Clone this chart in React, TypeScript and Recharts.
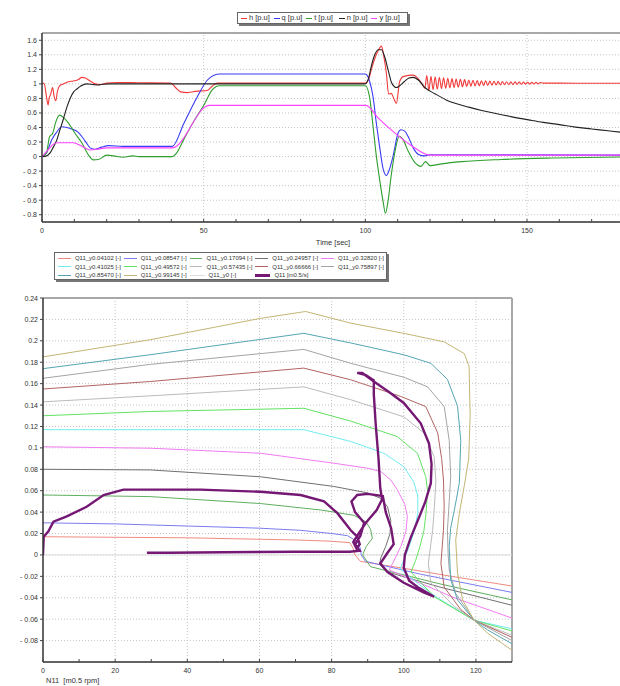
import React from "react";
import { LineChart, Line, XAxis, YAxis, CartesianGrid, ReferenceLine } from "recharts";

const FONT = '"Liberation Sans", Arial, sans-serif';

// ---- top chart: time series, [t (sec), value (p.u)] ----
const hSeries = [
  [0, 1.01], [0.7, 1.0], [1.4, 0.82], [1.9, 0.71], [2.2, 0.8], [2.7, 0.86], [3.3, 0.95], [3.7, 0.84],
  [4.3, 0.77], [4.7, 0.88], [5.4, 0.97], [6.6, 1.0], [8.2, 1.03], [9.7, 1.04], [11.3, 1.06], [12.3, 1.09],
  [13.4, 1.08], [14.9, 1.04], [16.4, 1.0], [18, 0.99], [20.1, 1.01], [23.2, 1.02], [30, 1.015], [39.8, 1.01],
  [41.3, 0.95], [42.9, 0.89], [45, 0.88], [48, 0.9], [51.1, 0.91], [52.7, 0.97], [54.2, 1.01], [100, 1.01],
  [101, 1.06], [102, 1.22], [103, 1.36], [104, 1.46], [105, 1.52], [105.7, 1.38], [106.5, 1.15], [107.2, 0.86],
  [108, 0.87], [108.8, 0.8], [109.6, 0.73], [110.6, 1.03], [111.7, 1.1], [114.8, 1.12], [117.4, 1.01], [118.4, 0.94],
  [119.0, 1.115], [119.65, 0.91], [120.3, 1.106], [120.95, 0.918], [121.6, 1.098], [122.25, 0.926], [122.9, 1.09],
  [123.55, 0.933], [124.2, 1.084], [124.85, 0.939], [125.5, 1.078], [126.15, 0.945], [126.8, 1.072], [127.45, 0.95],
  [128.1, 1.067], [128.75, 0.955], [129.4, 1.063], [130.05, 0.96], [130.7, 1.058], [131.35, 0.964], [132.0, 1.054],
  [132.65, 0.968], [133.3, 1.05], [133.95, 0.971], [134.6, 1.047], [135.25, 0.974], [135.9, 1.044], [136.55, 0.977],
  [137.2, 1.041], [137.85, 0.98], [138.5, 1.039], [139.15, 0.982], [139.8, 1.036], [140.45, 0.985], [141.1, 1.034],
  [141.75, 0.987], [142.4, 1.032], [143.05, 0.989], [143.7, 1.03], [144.35, 0.991], [145.0, 1.028], [145.65, 0.992],
  [146.3, 1.027], [146.95, 0.994], [147.6, 1.026], [148.25, 0.995], [148.9, 1.024], [149.55, 0.996], [150.2, 1.023],
  [150.85, 0.997], [151.5, 1.022], [152.15, 0.998], [152.8, 1.021], [153.45, 0.999], [154.1, 1.02], [155, 1.01],
  [160, 1.01], [170, 1.008], [180, 1.01],
];
const qSeries = [
  [0, 0], [1.4, 0.05], [3, 0.23], [4.6, 0.34], [6.1, 0.41], [7.7, 0.4], [9.2, 0.38], [11.3, 0.33], [13.4, 0.21],
  [14.9, 0.12], [16.4, 0.1], [18.5, 0.13], [20.6, 0.15], [25, 0.14], [40.3, 0.14], [43.9, 0.46], [48, 0.82],
  [51.1, 1.05], [53.2, 1.12], [55, 1.135], [100, 1.135], [101.3, 1.04], [102.4, 0.82], [103.4, 0.46], [104.4, 0.14],
  [105.5, -0.17], [106.5, -0.26], [107.5, -0.17], [108.6, 0.01], [110.1, 0.32], [111, 0.37], [112.2, 0.35],
  [113.2, 0.28], [114.8, 0.12], [116.4, 0.03], [118.4, 0.01], [120, 0.025], [180, 0.02],
];
const tSeries = [
  [0, 0], [1.4, 0.05], [2.3, 0.27], [3.3, 0.32], [4.3, 0.48], [5.4, 0.57], [6.6, 0.54], [8.2, 0.46], [10.2, 0.32],
  [12.3, 0.19], [14.4, 0.02], [15.9, -0.045], [17.4, -0.04], [20.1, 0.02], [22.1, 0.01], [25, -0.01], [28.2, 0.01],
  [30, 0], [40.3, 0], [41.8, 0.06], [43.9, 0.24], [47, 0.49], [50.1, 0.71], [52.7, 0.92], [54.8, 0.975], [100, 0.975],
  [101.3, 0.82], [102.4, 0.41], [103.4, 0.01], [104.4, -0.31], [105.5, -0.62], [106.2, -0.78], [107, -0.62],
  [108, -0.26], [109.3, 0.1], [110.5, 0.28], [111.7, 0.23], [113.2, 0.08], [115.3, -0.08], [117.2, -0.135],
  [118.6, -0.07], [120, -0.125], [123.6, -0.1], [129.8, -0.07], [142.2, -0.04], [157.7, -0.02], [180, -0.005],
];
const nSeries = [
  [0, 0], [1.5, 0.01], [2.5, 0.05], [3.5, 0.13], [4.6, 0.23], [5.5, 0.36], [6.5, 0.5], [7.7, 0.68], [8.8, 0.81],
  [9.8, 0.89], [10.8, 0.93], [12, 0.97], [13.9, 1.0], [16, 0.99], [17.5, 0.985], [19, 0.995], [21, 1.0], [100, 1.0],
  [101, 1.08], [102, 1.27], [103, 1.41], [104, 1.47], [105, 1.47], [106, 1.37], [107, 1.2], [108, 1.03], [109, 0.96],
  [109.6, 0.95], [110.5, 0.97], [112, 1.03], [113.5, 1.08], [114.8, 1.09], [116.5, 1.05], [118.4, 0.95],
  [121.5, 0.865], [125, 0.78], [128, 0.73], [132, 0.68], [136, 0.635], [140, 0.595], [145, 0.55], [150.5, 0.505],
  [155, 0.47], [160, 0.44], [165, 0.405], [170, 0.38], [175, 0.355], [180, 0.33],
];
const ySeries = [
  [0, 0], [2, 0.1], [3.5, 0.17], [5.1, 0.19], [9.7, 0.19], [12.8, 0.13], [14.9, 0.09], [17, 0.1], [20.1, 0.12],
  [40.3, 0.12], [51.7, 0.705], [100.2, 0.705], [104, 0.53], [109, 0.33], [114.3, 0.15], [119.9, 0.02], [180, 0.02],
];

const topSeries = [
  { name: "h [p.u]", color: "#F23A3A", points: hSeries },
  { name: "q [p.u]", color: "#3B3BF5", points: qSeries },
  { name: "t [p.u]", color: "#2E9E2E", points: tSeries },
  { name: "n [p.u]", color: "#222222", points: nSeries },
  { name: "y [p.u]", color: "#FF44FF", points: ySeries },
];
const topYTicks = [-0.8, -0.6, -0.4, -0.2, 0, 0.2, 0.4, 0.6, 0.8, 1, 1.2, 1.4, 1.6];
const topXTicks = [0, 10, 20, 30, 40, 50, 60, 70, 80, 90, 100, 110, 120, 130, 140, 150, 160, 170];
const topXLabelled = [0, 50, 100, 150];

// ---- bottom chart: characteristics, [N11, Q11] ----
const c0041 = [[0, 0.017], [40, 0.016], [70, 0.014], [80, 0.0128], [85, 0.0115], [86, 0.006], [86.5, 0.0], [88, -0.006], [100, -0.0125], [115, -0.021], [130, -0.029]];
const c0085 = [[0, 0.03], [20, 0.029], [40, 0.027], [60, 0.025], [71.4, 0.023], [80, 0.02], [84.4, 0.018], [87.1, 0.0125], [88, 0.006], [88.2, 0.0], [89.4, -0.006], [104.7, -0.018], [130, -0.035]];
const c0171 = [[0, 0.056], [29.7, 0.0545], [60.3, 0.048], [77, 0.042], [86.2, 0.037], [89.5, 0.031], [90.8, 0.024], [91.3, 0.0155], [89.6, 0.008], [88.6, 0.0], [90.8, -0.011], [110, -0.027], [130, -0.042]];
const c0250 = [[0, 0.08], [29.7, 0.0794], [60.3, 0.073], [80.6, 0.064], [89.9, 0.058], [93.5, 0.053], [95.5, 0.045], [96.4, 0.032], [96.2, 0.02], [95, 0.008], [93.6, -0.003], [93.3, -0.009], [95.5, -0.016], [110, -0.03], [130, -0.047]];
const c0328 = [[0, 0.101], [29.7, 0.0997], [60.3, 0.095], [80.6, 0.0857], [90, 0.081], [93.6, 0.078], [96.4, 0.07], [98.2, 0.061], [100.3, 0.047], [101, 0.036], [100.6, 0.022], [99.2, 0.008], [96.9, -0.008], [96, -0.014], [105, -0.027], [114, -0.04], [130, -0.059]];
const c0410 = [[0, 0.117], [29.7, 0.117], [72.3, 0.117], [85.3, 0.106], [94.5, 0.095], [100, 0.0825], [102.8, 0.068], [103.9, 0.055], [103.9, 0.04], [103, 0.023], [101.3, 0.006], [99.6, -0.008], [99, -0.013], [104, -0.027], [109.4, -0.04], [119.5, -0.061], [130, -0.069]];
const c0496 = [[0, 0.13], [29.7, 0.134], [72.3, 0.137], [85.3, 0.125], [98.2, 0.1106], [103.8, 0.095], [106.1, 0.073], [106.6, 0.06], [106.2, 0.04], [105.6, 0.023], [104.5, 0.008], [103.3, -0.005], [102, -0.016], [108.4, -0.039], [119.5, -0.061], [130, -0.071]];
const c0574 = [[0, 0.143], [29.7, 0.1486], [72.3, 0.157], [85.3, 0.145], [100, 0.129], [105.6, 0.114], [108.4, 0.092], [108.9, 0.07], [108.5, 0.045], [108, 0.023], [106.8, -0.008], [107.5, -0.026], [114, -0.048], [119.5, -0.061], [130, -0.075]];
const c0667 = [[0, 0.155], [29.7, 0.162], [72.3, 0.1745], [85.3, 0.1636], [99.2, 0.148], [106.1, 0.1386], [109.4, 0.114], [110.5, 0.09], [111, 0.07], [111.2, 0.045], [111, 0.023], [110.3, -0.008], [111.2, -0.03], [115.8, -0.051], [119.5, -0.061], [130, -0.077]];
const c0759 = [[0, 0.165], [29.7, 0.178], [72.3, 0.192], [85.3, 0.179], [100, 0.166], [106.6, 0.157], [111.2, 0.1386], [112.6, 0.107], [113, 0.073], [112.6, 0.05], [112.1, 0.023], [112.3, 0.0], [112.6, -0.014], [114.4, -0.036], [119.5, -0.061], [130, -0.08]];
const c0855 = [[0, 0.174], [29.7, 0.187], [72.3, 0.207], [85.3, 0.198], [100, 0.187], [107.5, 0.179], [112.1, 0.164], [114.9, 0.139], [115.8, 0.107], [115.4, 0.067], [114.2, 0.045], [113, 0.025], [112.6, 0.008], [113, -0.023], [114.9, -0.042], [119.5, -0.061], [123.2, -0.07], [130, -0.083]];
const c0991 = [[0, 0.185], [29.7, 0.201], [60.3, 0.221], [72.8, 0.2274], [85.3, 0.2165], [100, 0.207], [111.2, 0.199], [116.8, 0.188], [118.1, 0.176], [118.4, 0.13], [118, 0.09], [116.8, 0.065], [115.4, 0.039], [114.4, 0.014], [114.9, -0.017], [116.3, -0.042], [119.5, -0.061], [123.2, -0.073], [130, -0.089]];
const c0 = [[0, 0], [130, 0]];
const q11Path = [
  [0, 0], [0.2, 0.017], [1.5, 0.022], [2.9, 0.031], [6.6, 0.036], [12.1, 0.045], [16.8, 0.056], [22.3, 0.061],
  [29.7, 0.061], [43.6, 0.061], [60.3, 0.059], [71.4, 0.056], [77.9, 0.05], [81.6, 0.039], [85.3, 0.023],
  [87.1, 0.017], [87.8, 0.01], [86.9, 0.006], [86.0, 0.012], [87.5, 0.02], [89.5, 0.03], [92.5, 0.042],
  [94.0, 0.052], [93.5, 0.062], [93.0, 0.09], [92.2, 0.123], [91.7, 0.15], [91.7, 0.163], [89.5, 0.168],
  [87.1, 0.17], [88.5, 0.17], [91.7, 0.162], [96, 0.152], [100, 0.142], [104.7, 0.123], [107, 0.104],
  [107.7, 0.085], [107.5, 0.067], [106, 0.05], [104.7, 0.039], [101.9, 0.016], [100.3, 0.0], [100, -0.012],
  [101.5, -0.024], [103.8, -0.03], [108.4, -0.039], [105.5, -0.035], [100, -0.026], [95.5, -0.016],
  [93.5, -0.008], [95.5, 0.002], [97.2, 0.01], [96.5, 0.025], [95, 0.04], [94.2, 0.055], [90, 0.057],
  [87.1, 0.056], [85.5, 0.05], [86.5, 0.04], [89, 0.03], [88, 0.018], [86.5, 0.01], [87.8, 0.004],
  [85, 0.003], [70, 0.003], [50, 0.0025], [35, 0.002], [28.8, 0.002],
];

const curves = [
  { name: "Q11_y0.04102 [-]", color: "#F08A80", points: c0041 },
  { name: "Q11_y0.08547 [-]", color: "#7C7CF0", points: c0085 },
  { name: "Q11_y0.17094 [-]", color: "#5FAF5F", points: c0171 },
  { name: "Q11_y0.24957 [-]", color: "#707070", points: c0250 },
  { name: "Q11_y0.32820 [-]", color: "#F27CF2", points: c0328 },
  { name: "Q11_y0.41025 [-]", color: "#72ECF2", points: c0410 },
  { name: "Q11_y0.49572 [-]", color: "#62E262", points: c0496 },
  { name: "Q11_y0.57435 [-]", color: "#BBBBBB", points: c0574 },
  { name: "Q11_y0.66666 [-]", color: "#B26464", points: c0667 },
  { name: "Q11_y0.75897 [-]", color: "#A4A4A4", points: c0759 },
  { name: "Q11_y0.85470 [-]", color: "#55A6B4", points: c0855 },
  { name: "Q11_y0.99145 [-]", color: "#C2B674", points: c0991 },
  { name: "Q11_y0 [-]", color: "#DDDDDD", points: c0 },
];
const q11 = { name: "Q11 [m0.5/s]", color: "#741874", points: q11Path };
const botYTicks = [-0.08, -0.06, -0.04, -0.02, 0, 0.02, 0.04, 0.06, 0.08, 0.1, 0.12, 0.14, 0.16, 0.18, 0.2, 0.22, 0.24];
const botXTicks = [0, 10, 20, 30, 40, 50, 60, 70, 80, 90, 100, 110, 120];
const botXLabelled = [0, 20, 40, 60, 80, 100, 120];

const toXY = (pts: number[][]) => pts.map(([x, y]) => ({ x, y }));

function fmt(v: number) {
  const r = Math.round(v * 100) / 100;
  return r < 0 ? "- " + String(Math.abs(r)) : String(r);
}

function YTick(props: any) {
  const { x, y, payload } = props;
  return (
    <g>
      <line x1={x - 3} x2={x} y1={y} y2={y} stroke="#444" />
      <text x={x - 5} y={y + 2.5} textAnchor="end" fontSize={7} fill="#333" fontFamily={FONT}>
        {fmt(payload.value)}
      </text>
    </g>
  );
}

function makeXTick(labelled: number[]) {
  return (props: any) => {
    const { x, y, payload } = props;
    return (
      <g>
        <line x1={x} x2={x} y1={y} y2={y - 3} stroke="#444" />
        {labelled.includes(payload.value) ? (
          <text x={x} y={y + 11} textAnchor="middle" fontSize={7} fill="#333" fontFamily={FONT}>
            {payload.value}
          </text>
        ) : null}
      </g>
    );
  };
}

const gridDash = "1 2";
const gridColor = "#C4C4C4";

function TopLegend() {
  return (
    <div
      style={{
        position: "absolute", left: 237, top: 12, width: 166, height: 10, border: "1px solid #666",
        boxShadow: "2px 2px 0 #777", background: "#fff", display: "flex", alignItems: "center",
        paddingLeft: 3, boxSizing: "content-box", fontFamily: FONT,
      }}
    >
      {topSeries.map((s) => (
        <div key={s.name} style={{ width: 32.6, display: "flex", alignItems: "center" }}>
          <span style={{ display: "inline-block", width: 6, height: 1, background: s.color, marginRight: 2 }} />
          <span style={{ fontSize: 7.5, color: "#333", whiteSpace: "nowrap", lineHeight: "10px" }}>{s.name}</span>
        </div>
      ))}
    </div>
  );
}

function BottomLegend() {
  const items = [...curves, q11];
  return (
    <div
      style={{
        position: "absolute", left: 54, top: 252, width: 333, height: 28, border: "1px solid #666",
        boxShadow: "2px 2px 0 #777", background: "#fff", fontFamily: FONT, boxSizing: "border-box",
        display: "grid", gridTemplateColumns: "repeat(5, 65.8px)", gridAutoRows: "8.6px", paddingTop: 1,
      }}
    >
      {items.map((s) => (
        <div key={s.name} style={{ display: "flex", alignItems: "center" }}>
          <span
            style={{
              display: "inline-block", width: 15, height: s === q11 ? 3 : 1, background: s.color,
              marginLeft: 3, marginRight: 4,
            }}
          />
          <span style={{ fontSize: 6, color: "#333", whiteSpace: "nowrap", lineHeight: "8px" }}>{s.name}</span>
        </div>
      ))}
    </div>
  );
}

export default function App() {
  return (
    <div style={{ position: "absolute", left: 0, top: 0, width: 620, height: 686, overflow: "hidden", background: "#fff" }}>
      <div style={{ position: "absolute", left: 0, top: 0 }}>
        <LineChart width={624} height={250} margin={{ top: 33, right: 0, left: 0, bottom: 0 }}>
          <CartesianGrid vertical={false} stroke={gridColor} strokeDasharray={gridDash} />
          <XAxis
            type="number" dataKey="x" domain={[0, 180]} ticks={topXTicks} interval={0} allowDataOverflow
            height={28} tickSize={0} tickMargin={0} tick={makeXTick(topXLabelled)}
            axisLine={{ stroke: "#333", strokeWidth: 1.5 }}
            label={{ value: "Time [sec]", position: "insideBottom", offset: 5, fontSize: 7.5, fill: "#333", fontFamily: FONT }}
          />
          <YAxis
            type="number" domain={[-0.9, 1.7]} ticks={topYTicks} interval={0} allowDataOverflow width={42}
            tickSize={0} tickMargin={0} tick={YTick} axisLine={{ stroke: "#333", strokeWidth: 1.5 }}
          />
          {[50, 100, 150].map((v) => (
            <ReferenceLine key={v} x={v} stroke={gridColor} strokeDasharray={gridDash} />
          ))}
          <ReferenceLine y={1.7} stroke="#A8A8A8" strokeWidth={2} />
          {topSeries.map((s) => (
            <Line
              key={s.name} data={toXY(s.points)} dataKey="y" type="monotone" stroke={s.color} strokeWidth={1.1}
              dot={false} isAnimationActive={false}
            />
          ))}
        </LineChart>
      </div>
      <TopLegend />
      <div style={{ position: "absolute", left: 0, top: 250 }}>
        <LineChart width={513} height={436} margin={{ top: 48, right: 1, left: 0, bottom: 0 }}>
          <CartesianGrid vertical={false} stroke={gridColor} strokeDasharray={gridDash} />
          <XAxis
            type="number" dataKey="x" domain={[0, 130]} ticks={botXTicks} interval={0} allowDataOverflow
            height={24} tickSize={0} tickMargin={0} tick={makeXTick(botXLabelled)}
            axisLine={{ stroke: "#333", strokeWidth: 1.5 }}
            label={{ value: "N11\u00a0 [m0.5 rpm]", position: "insideBottomLeft", offset: 3, fontSize: 7.5, fill: "#333", fontFamily: FONT }}
          />
          <YAxis
            type="number" domain={[-0.1, 0.24]} ticks={botYTicks} interval={0} allowDataOverflow width={43}
            tickSize={0} tickMargin={0} tick={YTick} axisLine={{ stroke: "#333", strokeWidth: 1.5 }}
          />
          {[20, 40, 60, 80, 100, 120].map((v) => (
            <ReferenceLine key={v} x={v} stroke={gridColor} strokeDasharray={gridDash} />
          ))}
          <ReferenceLine y={0.24} stroke="#A8A8A8" strokeWidth={2} />
          <ReferenceLine x={130} stroke="#A8A8A8" strokeWidth={2} />
          {[curves[12], ...curves.slice(0, 12)].map((s) => (
            <Line
              key={s.name} data={toXY(s.points)} dataKey="y" type="linear" stroke={s.color} strokeWidth={1}
              dot={false} isAnimationActive={false}
            />
          ))}
          <Line
            data={toXY(q11.points)} dataKey="y" type="linear" stroke={q11.color} strokeWidth={2.4}
            dot={false} isAnimationActive={false}
          />
        </LineChart>
      </div>
      <BottomLegend />
    </div>
  );
}
